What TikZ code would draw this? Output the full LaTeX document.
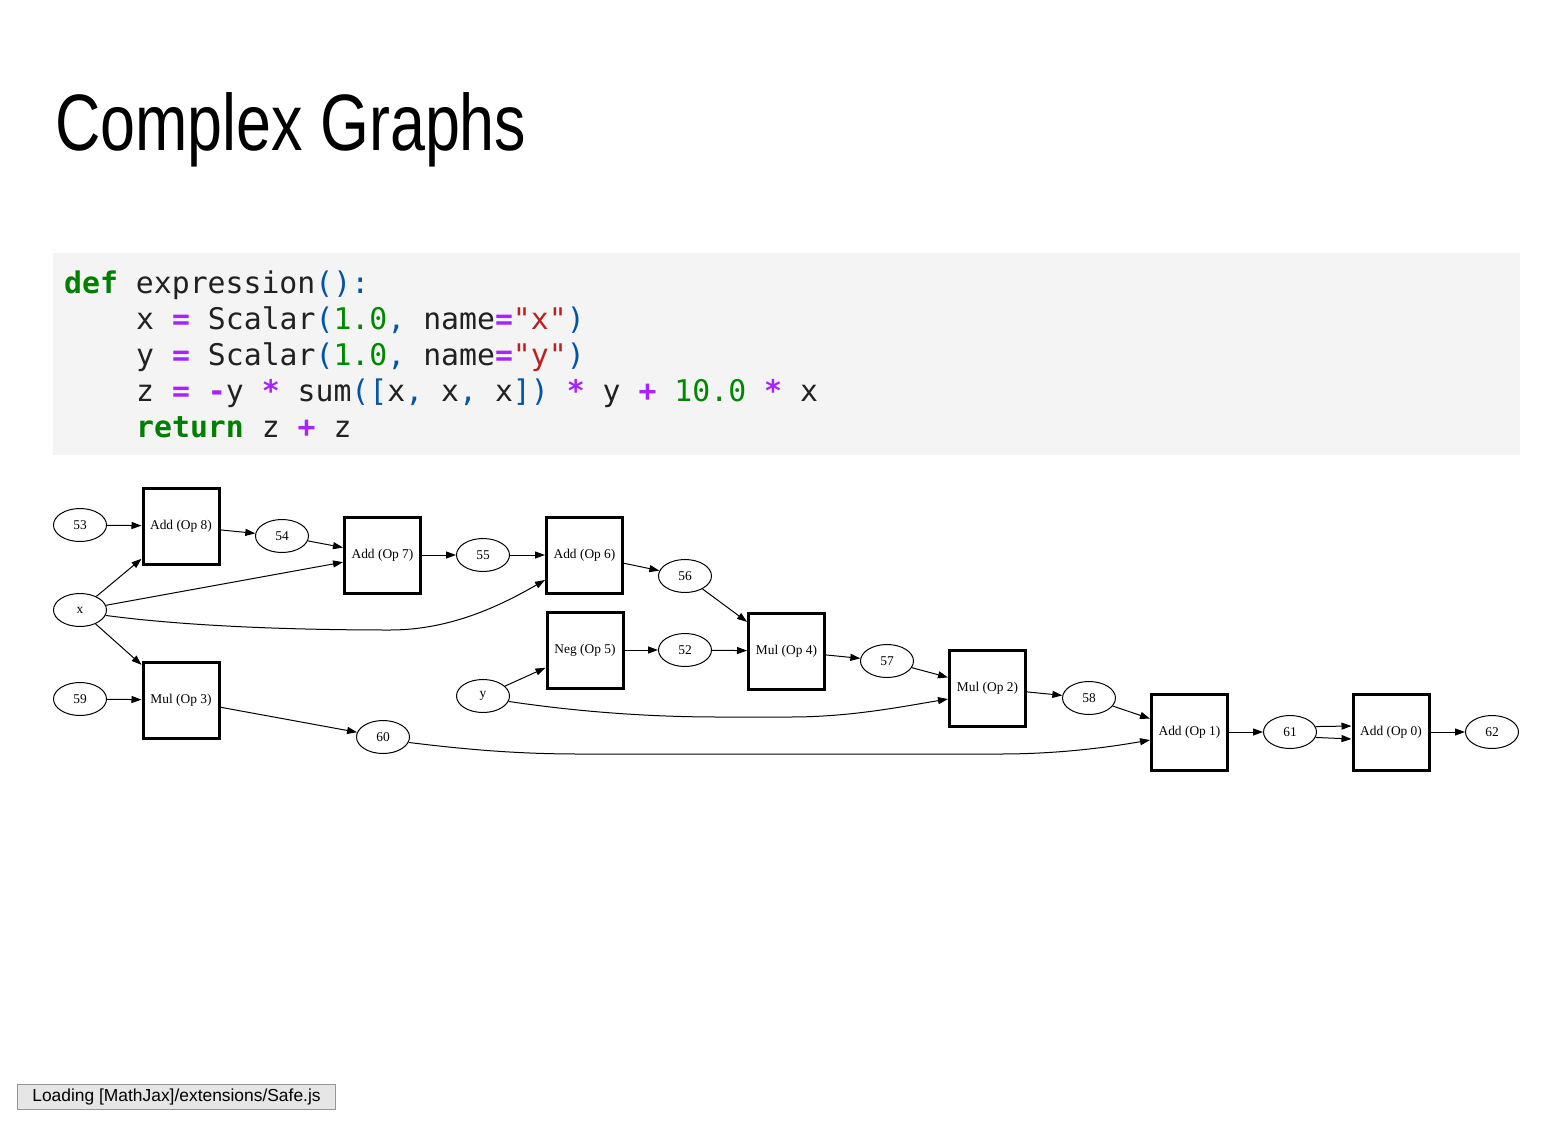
\documentclass[tikz,border=0pt]{standalone}
\usepackage{fontspec}
\usepackage{xcolor}
\setmonofont{DejaVu Sans Mono}
\newfontfamily\titlefont{Liberation Sans}[FakeStretch=0.785]
\newfontfamily\graphfont{Liberation Serif}
\newfontfamily\uifont{Liberation Sans}
\usetikzlibrary{arrows.meta,shapes.geometric}

\definecolor{codebg}{HTML}{F4F4F4}
\definecolor{codefg}{HTML}{212121}
\definecolor{kwgreen}{HTML}{008000}
\definecolor{numgreen}{HTML}{008800}
\definecolor{opviolet}{HTML}{AA22FF}
\definecolor{strred}{HTML}{BA2121}
\definecolor{punblue}{HTML}{0055AA}
\definecolor{uibg}{HTML}{E6E6E6}
\definecolor{uiborder}{HTML}{959595}

% syntax colouring helpers for the code listing
\newcommand\cKw[1]{\textcolor{kwgreen}{\bfseries #1}}
\newcommand\cOp[1]{\textcolor{opviolet}{\bfseries #1}}
\newcommand\cNum[1]{\textcolor{numgreen}{#1}}
\newcommand\cStr[1]{\textcolor{strred}{#1}}
\newcommand\cPun[1]{\textcolor{punblue}{#1}}

\begin{document}
\begin{tikzpicture}[x=1pt,y=-1pt,
  codeline/.style={anchor=base west, inner sep=0pt, text=codefg,
    font=\ttfamily\fontsize{29.8}{36}\selectfont},
  valnode/.style={ellipse, draw, line width=1pt, minimum width=53pt,
    minimum height=33pt, inner sep=0pt,
    font=\graphfont\fontsize{13.4}{16}\selectfont},
  opnode/.style={rectangle, draw, line width=3pt, minimum width=76pt,
    minimum height=76pt, inner sep=0pt,
    font=\graphfont\fontsize{13.4}{16}\selectfont},
  edge/.style={draw, line width=1pt, -{Triangle[length=10pt,width=7pt]}}]

\useasboundingbox (0,0) rectangle (1561,1138);

% heading
\node[anchor=base west, inner sep=0pt,
  font=\titlefont\fontsize{80}{96}\selectfont] (title) at (55,150) {Complex Graphs};

% code cell
\fill[codebg] (53,253) rectangle (1520,455);
\node[codeline] (l1) at (64,293) {\cKw{def} expression\cPun{():}};
\node[codeline] (l2) at (136,329) {x \cOp{=} Scalar\cPun{(}\cNum{1.0}\cPun{,} name\cOp{=}\cStr{"x"}\cPun{)}};
\node[codeline] (l3) at (136,365) {y \cOp{=} Scalar\cPun{(}\cNum{1.0}\cPun{,} name\cOp{=}\cStr{"y"}\cPun{)}};
\node[codeline] (l4) at (136,401) {z \cOp{=} \cOp{-}y \cOp{*} sum\cPun{([}x\cPun{,} x\cPun{,} x\cPun{])} \cOp{*} y \cOp{+} \cNum{10.0} \cOp{*} x};
\node[codeline] (l5) at (136,437) {\cKw{return} z \cOp{+} z};

% computation graph: value nodes
\node[valnode] (n53) at (80,525) {53};
\node[valnode] (n54) at (282,536) {54};
\node[valnode] (n55) at (483,555) {55};
\node[valnode] (n56) at (685,576) {56};
\node[valnode] (x)   at (80,610) {x};
\node[valnode] (n52) at (685,650) {52};
\node[valnode] (n57) at (887,661) {57};
\node[valnode] (y)   at (483,696) {y};
\node[valnode] (n58) at (1089,698) {58};
\node[valnode] (n59) at (80,699) {59};
\node[valnode] (n60) at (383,737) {60};
\node[valnode] (n61) at (1290,732) {61};
\node[valnode] (n62) at (1492,732) {62};

% computation graph: operations
\node[opnode] (add8) at (181,526) {Add (Op 8)};
\node[opnode] (add7) at (382.5,555) {Add (Op 7)};
\node[opnode] (add6) at (584.5,555) {Add (Op 6)};
\node[opnode] (neg5) at (585,650) {Neg (Op 5)};
\node[opnode] (mul4) at (786.5,651) {Mul (Op 4)};
\node[opnode] (mul3) at (181,700) {Mul (Op 3)};
\node[opnode] (mul2) at (987.5,688) {Mul (Op 2)};
\node[opnode] (add1) at (1189.5,732) {Add (Op 1)};
\node[opnode] (add0) at (1391,732) {Add (Op 0)};

% edges
\draw[edge] (n53) -- (add8);
\draw[edge] (x) -- (add8);
\draw[edge] (add8) -- (n54);
\draw[edge] (n54) -- (add7);
\draw[edge] (x) -- (add7);
\draw[edge] (add7) -- (n55);
\draw[edge] (n55) -- (add6);
\draw[edge] (x.-12) .. controls (200,628) and (320,630) .. (390,630)
  .. controls (450,630) and (500,606) .. ([yshift=-25pt]add6.west);
\draw[edge] (add6) -- (n56);
\draw[edge] (n56) -- (mul4);
\draw[edge] (x) -- (mul3);
\draw[edge] (n59) -- (mul3);
\draw[edge] (mul3) -- (n60);
\draw[edge] (y) -- (neg5);
\draw[edge] (neg5) -- (n52);
\draw[edge] (n52) -- (mul4);
\draw[edge] (mul4) -- (n57);
\draw[edge] (n57) -- (mul2);
\draw[edge] (y.-12) .. controls (580,712) and (650,717) .. (720,717)
  -- (790,717) .. controls (850,717) and (900,707) .. ([yshift=-11pt]mul2.west);
\draw[edge] (mul2) -- (n58);
\draw[edge] (n58) -- (add1);
\draw[edge] (n60.-12) .. controls (470,750) and (520,754) .. (580,754)
  -- (1000,754) .. controls (1060,754) and (1110,747) .. ([yshift=-8pt]add1.west);
\draw[edge] (add1) -- (n61);
\draw[edge] (n61.12) -- ([yshift=6pt]add0.west);
\draw[edge] (n61.-12) -- ([yshift=-7pt]add0.west);
\draw[edge] (add0) -- (n62);

% status message
\node[anchor=north west, draw=uiborder, fill=uibg, line width=1pt,
  minimum width=318pt, minimum height=25pt, inner sep=0pt,
  font=\uifont\fontsize{17.4}{20}\selectfont] (loading) at (17,1084)
  {Loading [MathJax]/extensions/Safe.js};
\end{tikzpicture}
\end{document}
